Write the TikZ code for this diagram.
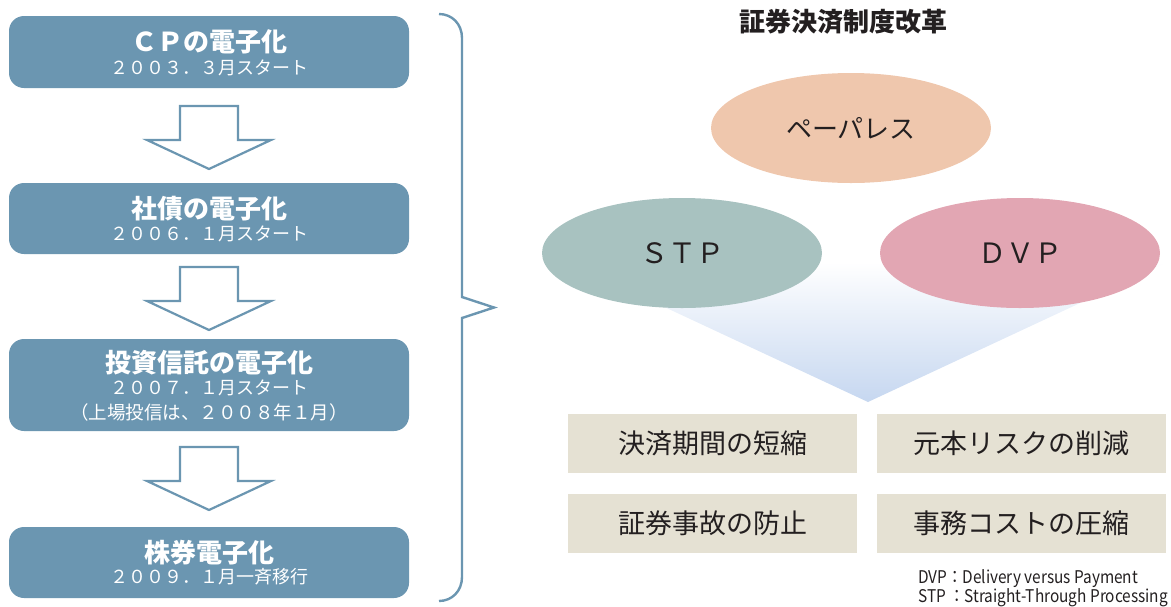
\documentclass[tikz,border=0pt]{standalone}
\usepackage{fontspec}
\setmainfont{Noto Sans CJK JP}
\newfontfamily\narrowfont[FakeStretch=0.88]{Noto Sans CJK JP}
\usetikzlibrary{shapes.geometric}
\definecolor{lblue}{HTML}{6B96B1}
\definecolor{ink}{HTML}{231F20}
\definecolor{peach}{HTML}{EFC7AD}
\definecolor{sage}{HTML}{A8C2C0}
\definecolor{rose}{HTML}{E2A6B3}
\definecolor{beige}{HTML}{E5E1D3}
\definecolor{triblue}{HTML}{C6D7F0}
\newcommand\setfs[1]{\fontsize{#1}{#1}\selectfont}
\tikzset{
  lbox/.style={rectangle, rounded corners=15pt, fill=lblue, draw=none, minimum width=400pt, inner sep=0pt},
  ltitle/.style={text=white, inner sep=0pt, font=\setfs{26}\bfseries},
  lsub/.style={text=white, inner sep=0pt, font=\setfs{18}},
  downarrow/.style={draw=lblue, fill=white, line width=2.2pt, line join=miter},
  oval/.style={ellipse, minimum width=280pt, minimum height=110pt, inner sep=0pt, draw=none, text=ink},
  rbox/.style={rectangle, fill=beige, minimum width=289pt, minimum height=59pt, inner sep=0pt, text=ink, font=\setfs{27}},
  bracepath/.style={draw=lblue, line width=2.4pt, line join=miter},
  note/.style={anchor=west, inner sep=0pt, text=ink, font=\narrowfont\setfs{17.5}}
}
\begin{document}
\begin{tikzpicture}[x=1pt,y=-1pt]
\useasboundingbox (0,0) rectangle (1171,606);

% left column boxes
\node[lbox, minimum height=72pt] (b1) at (209,52) {};
\node[ltitle] (b1t) at (209,42) {ＣＰの電子化};
\node[lsub] (b1s) at (209,68) {２００３．３月スタート};

\node[lbox, minimum height=71pt] (b2) at (209,218.5) {};
\node[ltitle] (b2t) at (209,209) {社債の電子化};
\node[lsub] (b2s) at (209,234) {２００６．１月スタート};

\node[lbox, minimum height=92pt] (b3) at (209,385) {};
\node[ltitle] (b3t) at (209,363) {投資信託の電子化};
\node[lsub] (b3s) at (209,388) {２００７．１月スタート};
\node[lsub, font=\setfs{18.5}] (b3n) at (209,412) {（上場投信は、２００８年１月）};

\node[lbox, minimum height=71pt] (b4) at (209,562.5) {};
\node[ltitle] (b4t) at (209,553) {株券電子化};
\node[lsub] (b4s) at (209,577) {２００９．１月一斉移行};

% block arrows
\draw[downarrow] (180,106) -- (238,106) -- (238,140) -- (271,140) -- (209,169) -- (147,140) -- (180,140) -- cycle;
\draw[downarrow] (180,267) -- (238,267) -- (238,301) -- (271,301) -- (209,330) -- (147,301) -- (180,301) -- cycle;
\draw[downarrow] (180,447) -- (238,447) -- (238,481) -- (271,481) -- (209,510) -- (147,481) -- (180,481) -- cycle;

% brace
\coordinate (brtop) at (439,14);
\coordinate (brtip) at (494,307.5);
\coordinate (brbot) at (439,601);
\draw[bracepath] (brtop) .. controls (452,14) and (462,24) .. (462,38) -- (462,297) -- (brtip) -- (462,318) -- (462,577) .. controls (462,591) and (452,601) .. (brbot);

% title
\node[text=ink, inner sep=0pt, font=\setfs{26}\bfseries] (title) at (843,22) {証券決済制度改革};

% gradient triangle
\shade[top color=white, bottom color=triblue] (568,262) -- (1168,262) -- (868,402) -- cycle;

% ellipses
\node[oval, fill=peach, font=\setfs{26}] (pp) at (851,128) {ペーパレス};
\node[oval, fill=sage, font=\setfs{28}] (stp) at (682,253) {ＳＴＰ};
\node[oval, fill=rose, font=\setfs{28}] (dvp) at (1020,253) {ＤＶＰ};

% result boxes
\node[rbox] (r1) at (712.5,443.5) {決済期間の短縮};
\node[rbox] (r2) at (1021.5,443.5) {元本リスクの削減};
\node[rbox] (r3) at (712.5,523.5) {証券事故の防止};
\node[rbox] (r4) at (1021.5,523.5) {事務コストの圧縮};

% notes
\node[note] (n1) at (918,579) {DVP：Delivery versus Payment};
\node[note] (n2) at (918,598) {STP ：Straight-Through Processing};
\end{tikzpicture}
\end{document}
